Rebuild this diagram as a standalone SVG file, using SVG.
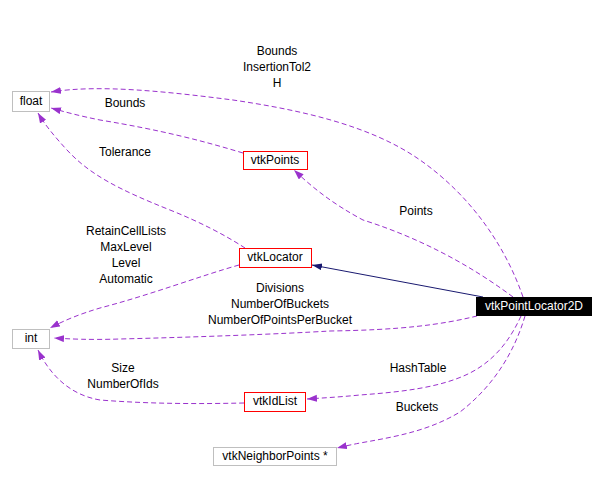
<svg xmlns="http://www.w3.org/2000/svg" width="605" height="482" viewBox="0 0 605 482">
<defs>
<style>
text{font-family:"Liberation Sans",Arial,sans-serif;font-size:12px;fill:#000;text-anchor:middle}
.n rect{fill:#fff;stroke-width:1}
.red rect{stroke:#ff0000}
.grey rect{stroke:#bfbfbf}
.e{fill:none;stroke:#9a32cd;stroke-width:1;stroke-dasharray:5,3}
.s{fill:none;stroke:#191970;stroke-width:1}
</style>
<marker id="ap" markerWidth="11" markerHeight="8" refX="10" refY="3.5" orient="auto" markerUnits="userSpaceOnUse"><path d="M0,0 L10,3.5 L0,7 z" fill="#9a32cd"/></marker>
<marker id="an" markerWidth="11" markerHeight="8" refX="10" refY="3.5" orient="auto" markerUnits="userSpaceOnUse"><path d="M0,0 L10,3.5 L0,7 z" fill="#191970"/></marker>
</defs>
<rect width="605" height="482" fill="#fff"/>
<g id="connectors">
<path class="e" marker-end="url(#ap)" d="M523,297 C505,245 470,195 420,160 C370,125 300,110 233,100 C170,92 100,84 51,92"/>
<path class="e" marker-end="url(#ap)" d="M243,153 C200,140 160,130 100,120 C80,116 65,112 51,108"/>
<path class="e" marker-end="url(#ap)" d="M245,248 C225,235 200,222 170,210 C120,190 90,175 67,150 C55,137 45,125 38,113"/>
<path class="e" marker-end="url(#ap)" d="M513,297 C470,265 420,238 363,220 C335,205 315,190 294,170"/>
<path class="s" marker-end="url(#an)" d="M483,297 L312,265"/>
<path class="e" marker-end="url(#ap)" d="M239,265 C200,276 150,295 100,308 C80,314 65,320 50,328"/>
<path class="e" marker-end="url(#ap)" d="M477,316 C440,325 400,330 330,331 C280,334 200,337 120,339 C90,340 70,339 54,338"/>
<path class="e" marker-end="url(#ap)" d="M521,316 C510,340 495,360 470,373 C440,388 400,392 360,395 C340,397 322,398 307,399"/>
<path class="e" marker-end="url(#ap)" d="M525,316 C515,350 495,385 460,412 C430,430 400,436 360,443 C350,445 345,446 337,448"/>
<path class="e" marker-end="url(#ap)" d="M244,403 C200,404 150,404 100,400 C70,395 50,375 38,350"/>
</g>
<g id="float" class="n grey"><rect x="12.5" y="91.5" width="37" height="20"/><text x="31" y="105">float</text></g>
<g id="vtkPoints" class="n red"><rect x="243.5" y="151.5" width="64" height="18"/><text x="275" y="164">vtkPoints</text></g>
<g id="vtkLocator" class="n red"><rect x="239.5" y="248.5" width="72" height="19"/><text x="275" y="261">vtkLocator</text></g>
<g id="vtkPointLocator2D"><rect x="476" y="297" width="116" height="19" fill="#000"/><text x="534" y="310" style="fill:#fff">vtkPointLocator2D</text></g>
<g id="int" class="n grey"><rect x="12.5" y="329.5" width="37" height="19"/><text x="31" y="342">int</text></g>
<g id="vtkIdList" class="n red"><rect x="244.5" y="392.5" width="61" height="19"/><text x="275" y="405">vtkIdList</text></g>
<g id="vtkNeighborPoints" class="n grey"><rect x="213.5" y="447.5" width="123" height="18"/><text x="275" y="460">vtkNeighborPoints *</text></g>
<g id="labels">
<text x="277" y="55">Bounds</text>
<text x="277" y="71">InsertionTol2</text>
<text x="277" y="87">H</text>
<text x="125" y="107">Bounds</text>
<text x="125" y="156">Tolerance</text>
<text x="416" y="215">Points</text>
<text x="126" y="235">RetainCellLists</text>
<text x="126" y="251">MaxLevel</text>
<text x="126" y="267">Level</text>
<text x="126" y="283">Automatic</text>
<text x="280" y="292">Divisions</text>
<text x="280" y="308">NumberOfBuckets</text>
<text x="280" y="324">NumberOfPointsPerBucket</text>
<text x="123" y="372">Size</text>
<text x="123" y="388">NumberOfIds</text>
<text x="418" y="372">HashTable</text>
<text x="417" y="411">Buckets</text>
</g>
</svg>
